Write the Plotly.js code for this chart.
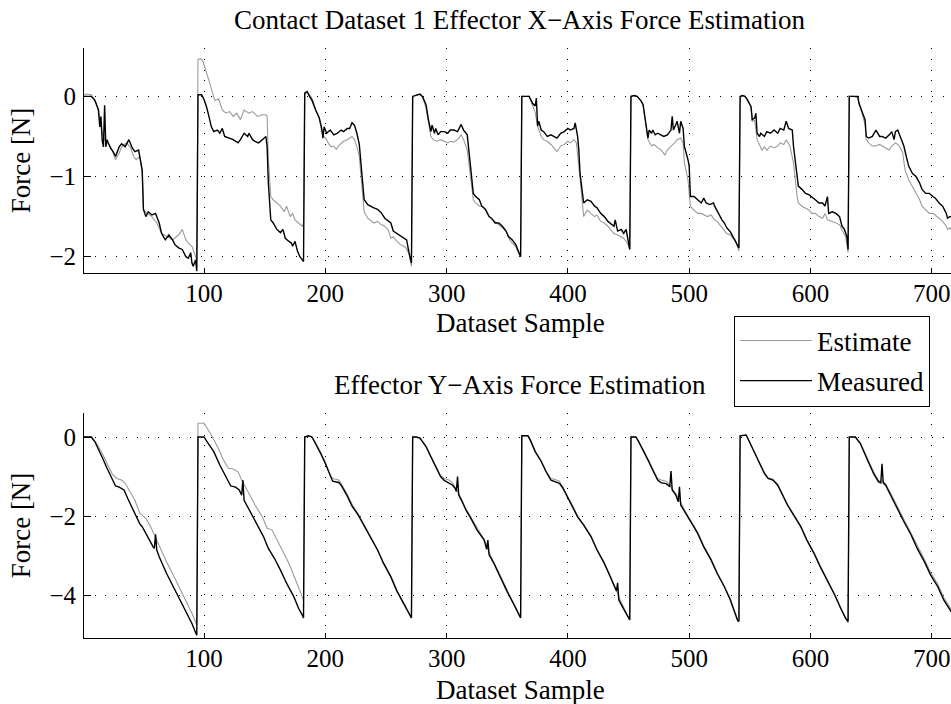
<!DOCTYPE html>
<html>
<head>
<meta charset="utf-8">
<script src="https://cdn.plot.ly/plotly-3.0.1.min.js"></script>
<style>
html,body{margin:0;padding:0;overflow:hidden;background:#fff;}
#chart{width:956px;height:704px;}
</style>
</head>
<body>
<div id="chart"></div>
<script>
// ---- Data (sample index, force in N) ----
const xForceMeasuredX = [1,3,7,10,13,14,15,16,17,18,19,20,23,25,27,30,32,35,38,41,43,46,47,49,50,52,54,57,60,63,65,68,71,74,76,79,82,85,87,89,90,91,93,94,
95,98,100,102,104,106,108,111,113,115,117,120,124,128,130,133,136,137,140,142,145,148,151,152,153,155,157,160,163,165,167,170,172,173,175,177,179,181,182,
183,185,187,189,192,195,197,198,199,201,204,207,210,213,215,218,220,222,224,226,228,230,232,235,237,240,243,246,249,251,254,256,259,262,265,267,269,271,
272,275,278,280,283,285,287,288,290,291,293,295,298,301,303,306,309,312,314,317,320,322,324,327,329,332,335,337,340,343,346,349,351,354,357,359,361,
362,365,368,371,373,374,375,376,378,380,383,386,389,391,394,397,400,402,405,406,408,409,410,412,413,416,419,422,424,427,430,433,435,438,439,441,444,446,448,450,451,
452,455,457,460,462,463,464,466,467,469,470,472,474,477,479,482,485,486,487,489,490,492,493,495,496,499,500,501,504,507,510,512,514,517,520,521,524,527,529,531,534,536,538,540,541,
542,544,546,548,551,552,554,555,556,558,559,562,564,567,570,573,575,578,580,582,585,586,588,589,590,593,596,599,601,604,607,610,612,614,615,618,621,624,626,628,630,631,
632,636,639,640,643,645,646,648,651,654,657,659,662,665,667,669,670,672,674,677,679,681,684,687,690,692,695,698,701,703,706,709,712,713,715,717,720];
const xForceMeasured = [0,0,0,-0.05,-0.17,-0.38,-0.25,-0.55,-0.63,-0.11,-0.63,-0.54,-0.65,-0.69,-0.75,-0.63,-0.59,-0.63,-0.54,-0.65,-0.69,-0.67,-0.77,-0.92,-1.41,-1.5,-1.44,-1.48,-1.46,-1.58,-1.71,-1.79,-1.73,-1.79,-1.85,-1.89,-1.91,-2.0,-2.02,-1.95,-2.08,-2.12,-2.04,-2.18,
0.02,0.02,-0.04,-0.13,-0.25,-0.38,-0.44,-0.42,-0.46,-0.40,-0.50,-0.52,-0.54,-0.58,-0.54,-0.46,-0.5,-0.46,-0.54,-0.56,-0.58,-0.54,-0.5,-0.63,-1.08,-1.54,-1.58,-1.66,-1.70,-1.66,-1.77,-1.81,-1.83,-1.87,-1.81,-1.93,-2.0,-2.04,-2.06,
0.04,0.06,0,-0.05,-0.17,-0.27,-0.40,-0.52,-0.38,-0.46,-0.42,-0.48,-0.46,-0.42,-0.44,-0.40,-0.40,-0.33,-0.36,-0.46,-0.60,-0.96,-1.29,-1.35,-1.37,-1.39,-1.41,-1.45,-1.52,-1.54,-1.58,-1.68,-1.71,-1.73,-1.77,-1.79,-1.95,-2.08,
0,0.02,0.03,0,-0.10,-0.29,-0.44,-0.36,-0.46,-0.40,-0.48,-0.44,-0.44,-0.46,-0.42,-0.42,-0.44,-0.35,-0.42,-0.48,-0.96,-1.21,-1.25,-1.29,-1.37,-1.41,-1.50,-1.52,-1.58,-1.58,-1.62,-1.68,-1.75,-1.79,-1.85,-1.93,-2.0,
0,0,0,-0.09,-0.12,-0.02,-0.37,-0.31,-0.42,-0.44,-0.50,-0.48,-0.50,-0.52,-0.46,-0.44,-0.40,-0.42,-0.40,-0.33,-0.50,-0.67,-0.96,-1.21,-1.33,-1.29,-1.31,-1.37,-1.39,-1.46,-1.50,-1.56,-1.58,-1.62,-1.54,-1.68,-1.66,-1.71,-1.66,-1.83,-1.91,
0,0.01,0,-0.05,-0.10,-0.21,-0.33,-0.52,-0.42,-0.46,-0.42,-0.48,-0.46,-0.48,-0.50,-0.48,-0.42,-0.25,-0.42,-0.35,-0.31,-0.46,-0.31,-0.40,-0.62,-0.79,-0.87,-1.25,-1.25,-1.29,-1.33,-1.27,-1.33,-1.35,-1.33,-1.37,-1.46,-1.54,-1.58,-1.64,-1.69,-1.75,-1.79,-1.87,-1.89,
0,0.01,0,-0.04,-0.13,-0.29,-0.27,-0.21,-0.46,-0.50,-0.46,-0.50,-0.44,-0.46,-0.42,-0.46,-0.40,-0.42,-0.31,-0.40,-0.42,-0.62,-0.87,-1.04,-1.12,-1.16,-1.21,-1.23,-1.25,-1.29,-1.33,-1.33,-1.37,-1.25,-1.46,-1.44,-1.46,-1.50,-1.62,-1.66,-1.75,-1.91,
0,0,0,-0.09,-0.21,-0.29,-0.50,-0.52,-0.50,-0.42,-0.50,-0.50,-0.52,-0.48,-0.44,-0.54,-0.44,-0.42,-0.50,-0.62,-0.75,-0.87,-0.96,-1.0,-1.08,-1.16,-1.21,-1.21,-1.25,-1.27,-1.33,-1.37,-1.46,-1.52,-1.50,-1.50,-1.56];

const xForceEstimateX = [1,3,7,9,12,14,16,18,20,23,25,27,30,32,36,39,42,44,47,49,50,53,57,61,65,69,74,79,82,85,87,90,92,94,
95,97,99,102,104,107,109,112,115,118,121,124,127,130,133,137,140,144,148,151,152,153,155,157,160,163,166,168,171,173,175,178,181,182,
183,185,188,190,192,195,197,199,201,203,205,207,209,212,215,218,220,222,224,226,228,230,232,235,237,240,243,246,249,252,254,256,259,262,265,267,269,271,
272,275,278,280,283,285,287,289,292,295,298,301,303,306,309,312,314,317,320,322,324,327,330,332,335,338,341,343,346,349,352,354,357,359,361,
362,365,368,371,373,375,378,380,383,386,389,391,394,397,400,402,405,407,409,411,412,413,416,419,422,424,427,430,433,435,438,441,444,446,449,451,
452,455,457,460,462,464,466,469,471,474,477,480,482,485,488,490,493,495,496,499,500,501,504,507,510,512,515,518,521,523,526,529,531,534,536,538,540,541,
542,544,546,548,551,552,554,556,558,560,562,564,567,570,573,575,578,580,583,586,589,590,593,596,599,601,604,607,610,612,614,618,621,624,626,629,631,
632,636,639,641,643,645,646,648,651,654,657,659,662,665,667,670,672,674,676,678,681,684,687,690,692,695,698,701,703,706,709,712,713,715,717,720];
const xForceEstimate = [0.02,0.03,0.02,-0.02,-0.13,-0.30,-0.46,-0.54,-0.58,-0.63,-0.70,-0.79,-0.71,-0.63,-0.58,-0.63,-0.75,-0.79,-0.75,-0.96,-1.41,-1.46,-1.50,-1.58,-1.71,-1.75,-1.79,-1.73,-1.66,-1.79,-1.83,-1.87,-1.95,-2.04,
0.46,0.47,0.44,0.31,0.20,0.04,-0.05,-0.03,-0.17,-0.21,-0.19,-0.25,-0.21,-0.29,-0.17,-0.21,-0.19,-0.25,-0.23,-0.23,-0.25,-0.79,-1.25,-1.29,-1.33,-1.37,-1.44,-1.37,-1.50,-1.46,-1.54,-1.58,-1.62,-1.58,
0.04,0.05,0,-0.06,-0.17,-0.27,-0.44,-0.50,-0.54,-0.60,-0.63,-0.62,-0.66,-0.60,-0.56,-0.54,-0.52,-0.50,-0.54,-0.63,-0.75,-1.15,-1.44,-1.52,-1.54,-1.58,-1.56,-1.60,-1.62,-1.67,-1.77,-1.75,-1.81,-1.85,-1.87,-1.90,-1.97,-2.12,
0,0.02,0.02,0,-0.15,-0.32,-0.50,-0.54,-0.56,-0.54,-0.56,-0.58,-0.56,-0.57,-0.54,-0.48,-0.54,-0.67,-1.04,-1.29,-1.33,-1.37,-1.37,-1.41,-1.50,-1.54,-1.58,-1.60,-1.64,-1.68,-1.79,-1.83,-1.87,-1.95,-2.0,
0,0,0,-0.12,-0.20,-0.37,-0.50,-0.54,-0.56,-0.60,-0.65,-0.69,-0.62,-0.60,-0.56,-0.58,-0.54,-0.58,-0.87,-1.16,-1.37,-1.50,-1.42,-1.46,-1.50,-1.48,-1.56,-1.58,-1.62,-1.66,-1.71,-1.73,-1.75,-1.77,-1.83,-1.91,
0,0.01,0,-0.05,-0.12,-0.35,-0.54,-0.62,-0.60,-0.64,-0.67,-0.73,-0.67,-0.62,-0.58,-0.54,-0.52,-0.58,-0.83,-1.04,-1.25,-1.37,-1.42,-1.46,-1.46,-1.48,-1.50,-1.48,-1.54,-1.56,-1.62,-1.67,-1.71,-1.73,-1.77,-1.79,-1.89,-1.93,
0,0.01,0,-0.05,-0.13,-0.31,-0.30,-0.54,-0.60,-0.67,-0.63,-0.67,-0.62,-0.64,-0.62,-0.58,-0.60,-0.54,-0.62,-0.83,-1.25,-1.33,-1.37,-1.39,-1.42,-1.46,-1.46,-1.50,-1.52,-1.46,-1.54,-1.56,-1.58,-1.60,-1.67,-1.75,-1.95,
0,0,-0.02,-0.12,-0.25,-0.35,-0.54,-0.58,-0.62,-0.62,-0.60,-0.62,-0.65,-0.67,-0.62,-0.58,-0.60,-0.64,-0.70,-0.92,-1.04,-1.12,-1.20,-1.29,-1.37,-1.42,-1.46,-1.46,-1.48,-1.52,-1.56,-1.62,-1.66,-1.64,-1.68,-1.70];

const yForceMeasuredX = [1,7,10,14,17,20,23,27,30,34,37,41,45,47,49,52,56,58,59,60,61,63,69,76,83,90,93,94,
95,100,102,108,113,119,122,126,129,131,132,133,138,144,149,153,158,163,168,174,178,181,182,
183,186,189,192,196,200,204,206,211,213,218,222,227,232,237,243,248,254,259,265,270,271,
272,275,278,283,287,291,295,298,302,305,307,308,309,310,312,316,320,325,331,333,334,335,339,344,350,355,360,361,
362,367,369,373,378,382,386,389,393,396,400,404,408,413,419,424,430,435,440,441,442,445,448,451,
452,456,458,462,466,470,474,477,481,484,485,486,489,491,492,493,496,499,503,507,512,518,523,529,534,537,540,541,
542,547,549,553,558,562,565,569,573,577,581,586,592,597,603,608,614,620,625,629,631,
632,637,641,647,652,656,658,659,660,662,666,672,677,683,688,694,699,705,710,716,720];
const yForceMeasured = [0,0,-0.12,-0.37,-0.58,-0.79,-1.0,-1.24,-1.27,-1.34,-1.55,-1.81,-2.10,-2.20,-2.27,-2.45,-2.65,-2.78,-2.82,-2.46,-2.86,-3.03,-3.45,-3.87,-4.30,-4.72,-4.95,-5.02,
0,0,-0.10,-0.37,-0.71,-1.09,-1.24,-1.27,-1.34,-1.47,-1.09,-1.60,-1.89,-2.23,-2.52,-2.82,-3.07,-3.37,-3.70,-4.04,-4.34,-4.51,-4.58,
0,0.03,0,-0.16,-0.41,-0.67,-1.0,-1.12,-1.15,-1.22,-1.49,-1.75,-1.97,-2.25,-2.52,-2.86,-3.20,-3.54,-3.90,-4.25,-4.55,-4.58,
0,0,-0.03,-0.24,-0.50,-0.75,-1.0,-1.10,-1.16,-1.22,-1.30,-1.38,-1.0,-1.47,-1.59,-1.85,-2.06,-2.35,-2.61,-2.84,-2.61,-2.98,-3.20,-3.54,-3.92,-4.21,-4.51,-4.58,
0.03,0.03,-0.08,-0.37,-0.62,-0.88,-1.09,-1.13,-1.17,-1.30,-1.55,-1.76,-2.02,-2.23,-2.52,-2.86,-3.20,-3.54,-3.90,-3.69,-4.13,-4.30,-4.46,-4.63,
0,0,-0.10,-0.33,-0.58,-0.84,-1.09,-1.16,-1.18,-1.26,-0.86,-1.34,-1.47,-1.64,-1.26,-1.72,-1.89,-2.03,-2.23,-2.44,-2.78,-3.11,-3.45,-3.79,-4.13,-4.40,-4.65,-4.67,
0.03,0.05,-0.08,-0.37,-0.67,-0.92,-1.05,-1.09,-1.22,-1.47,-1.72,-1.97,-2.27,-2.61,-2.95,-3.28,-3.62,-4.0,-4.34,-4.59,-4.67,
0,0,-0.16,-0.58,-0.92,-1.13,-1.16,-0.68,-1.16,-1.22,-1.47,-1.81,-2.14,-2.48,-2.82,-3.16,-3.49,-3.79,-4.13,-4.42,-4.65];

const yForceEstimateX = [1,7,11,16,20,24,28,32,35,39,43,47,52,56,61,69,76,83,90,94,
95,100,102,106,111,116,120,124,128,131,137,142,148,152,156,160,164,170,175,179,182,
183,186,189,192,196,200,204,206,211,213,218,222,227,232,237,243,248,254,259,265,270,271,
272,275,278,283,287,291,295,298,302,305,308,312,316,320,325,331,335,339,344,350,355,360,361,
362,367,369,373,378,382,386,389,393,396,400,404,408,413,419,424,430,435,440,442,445,448,451,
452,456,458,462,466,470,474,477,481,484,486,489,491,493,496,499,503,507,512,518,523,529,534,537,540,541,
542,547,549,553,558,562,565,569,573,577,581,586,592,597,603,608,614,620,625,629,631,
632,637,641,647,652,656,660,662,666,672,677,683,688,694,699,705,710,716,720];
const yForceEstimate = [0,0,-0.14,-0.41,-0.67,-0.92,-1.05,-1.09,-1.17,-1.38,-1.60,-1.93,-2.06,-2.27,-2.61,-3.16,-3.58,-4.0,-4.46,-4.76,
0.35,0.35,0.26,0.05,-0.24,-0.58,-0.79,-0.81,-0.88,-1.09,-1.43,-1.72,-2.02,-2.31,-2.35,-2.60,-2.86,-3.20,-3.58,-3.87,-4.13,
0,0.03,0,-0.14,-0.38,-0.64,-0.97,-1.05,-1.09,-1.17,-1.45,-1.70,-1.94,-2.22,-2.50,-2.84,-3.18,-3.52,-3.88,-4.23,-4.53,-4.58,
0,0,-0.03,-0.22,-0.48,-0.73,-0.98,-1.05,-1.09,-1.16,-1.32,-1.55,-1.82,-2.03,-2.32,-2.60,-2.92,-3.18,-3.52,-3.90,-4.20,-4.50,-4.57,
0.03,0.03,-0.07,-0.35,-0.60,-0.86,-1.05,-1.07,-1.12,-1.27,-1.52,-1.74,-2.00,-2.21,-2.50,-2.84,-3.18,-3.52,-3.88,-4.05,-4.26,-4.44,-4.62,
0,0,-0.09,-0.32,-0.56,-0.82,-1.05,-1.09,-1.12,-1.22,-1.32,-1.43,-1.55,-1.66,-1.84,-2.00,-2.20,-2.41,-2.75,-3.08,-3.42,-3.77,-4.10,-4.38,-4.63,-4.65,
0.03,0.05,-0.07,-0.35,-0.65,-0.90,-1.03,-1.06,-1.20,-1.45,-1.70,-1.95,-2.25,-2.59,-2.93,-3.26,-3.60,-3.98,-4.32,-4.59,-4.70,
0,0,-0.14,-0.55,-0.88,-1.10,-1.12,-1.18,-1.42,-1.76,-2.08,-2.42,-2.76,-3.10,-3.43,-3.73,-4.07,-4.35,-4.55];

const xTickVals = [100,200,300,400,500,600,700];
const topYTicks = [-2,-1,0];
const bottomYTicks = [-4,-2,0];
const seriesNames = ['Estimate','Measured'];
const titles = ['Contact Dataset 1 Effector X\u2212Axis Force Estimation','Effector Y\u2212Axis Force Estimation'];
const xLabel = 'Dataset Sample';
const yLabel = 'Force [N]';

// ---- Styling ----
const FONT = 'Liberation Serif, Times New Roman, serif';
const TICK = 25, TXT = 27;
const estColor = '#9a9a9a', measColor = '#000000';

const traces = [
  {x: xForceEstimateX, y: xForceEstimate, xaxis:'x', yaxis:'y', name: seriesNames[0], mode:'lines',
   line:{color:estColor, width:1.1}, legendgroup:'e', showlegend:true},
  {x: xForceMeasuredX, y: xForceMeasured, xaxis:'x', yaxis:'y', name: seriesNames[1], mode:'lines',
   line:{color:measColor, width:1.4}, legendgroup:'m', showlegend:true},
  {x: yForceEstimateX, y: yForceEstimate, xaxis:'x2', yaxis:'y2', name: seriesNames[0], mode:'lines',
   line:{color:estColor, width:1.1}, legendgroup:'e', showlegend:false},
  {x: yForceMeasuredX, y: yForceMeasured, xaxis:'x2', yaxis:'y2', name: seriesNames[1], mode:'lines',
   line:{color:measColor, width:1.4}, legendgroup:'m', showlegend:false}
];

const gridDash = '1px,9.6px';
function xAxis(anchor){
  return {anchor: anchor, domain:[0,1], range:[1,720], tickvals:xTickVals, ticktext:xTickVals.map(String),
    ticks:'inside', ticklen:5, tickwidth:1, tickcolor:'#000', showline:true, linecolor:'#000', linewidth:1,
    showgrid:true, gridcolor:'#000', gridwidth:1, griddash:gridDash, zeroline:false,
    tickfont:{family:FONT, size:TICK, color:'#000'}, ticklabelstandoff:-2};
}
function yAxis(anchor, domain, range, ticks){
  return {anchor: anchor, domain: domain, range: range, tickvals: ticks,
    ticks:'inside', ticklen:7, tickwidth:1, tickcolor:'#000', showline:true, linecolor:'#000', linewidth:1,
    showgrid:true, gridcolor:'#000', gridwidth:1, griddash:gridDash, zeroline:false,
    tickfont:{family:FONT, size:TICK, color:'#000'}, ticklabelstandoff:2,
    title:{text: yLabel, font:{family:FONT, size:TXT, color:'#000'}, standoff:10}};
}

function ann(text, yPx){
  return {text: text, xref:'paper', yref:'paper', x:0.5, y:1-yPx/704, xanchor:'center', yanchor:'middle',
    showarrow:false, font:{family:FONT, size:TXT, color:'#000'}};
}

const layout = {
  width:956, height:704,
  margin:{l:84, r:0, t:0, b:0},
  paper_bgcolor:'#fff', plot_bgcolor:'#fff',
  font:{family:FONT, size:TXT, color:'#000'},
  showlegend:true,
  legend:{x:0.7454, xanchor:'left', y:1-315.5/704, yanchor:'top', bgcolor:'#fff', bordercolor:'#000', borderwidth:1,
    font:{family:FONT, size:TXT, color:'#000'}, itemwidth:72, traceorder:'grouped', tracegroupgap:2,
    entrywidth:215, entrywidthmode:'pixels'},
  xaxis: xAxis('y'),
  yaxis: yAxis('x', [1-272.7/704, 1-48.3/704], [-2.2, 0.6], topYTicks),
  xaxis2: xAxis('y2'),
  yaxis2: yAxis('x2', [1-637.7/704, 1-413.3/704], [-5.08, 0.6], bottomYTicks),
  annotations:[ ann(titles[0], 20), ann(titles[1], 385), ann(xLabel, 323), ann(xLabel, 690) ],
  hovermode:false
};

Plotly.newPlot('chart', traces, layout, {displayModeBar:false, staticPlot:true});
</script>
</body>
</html>
